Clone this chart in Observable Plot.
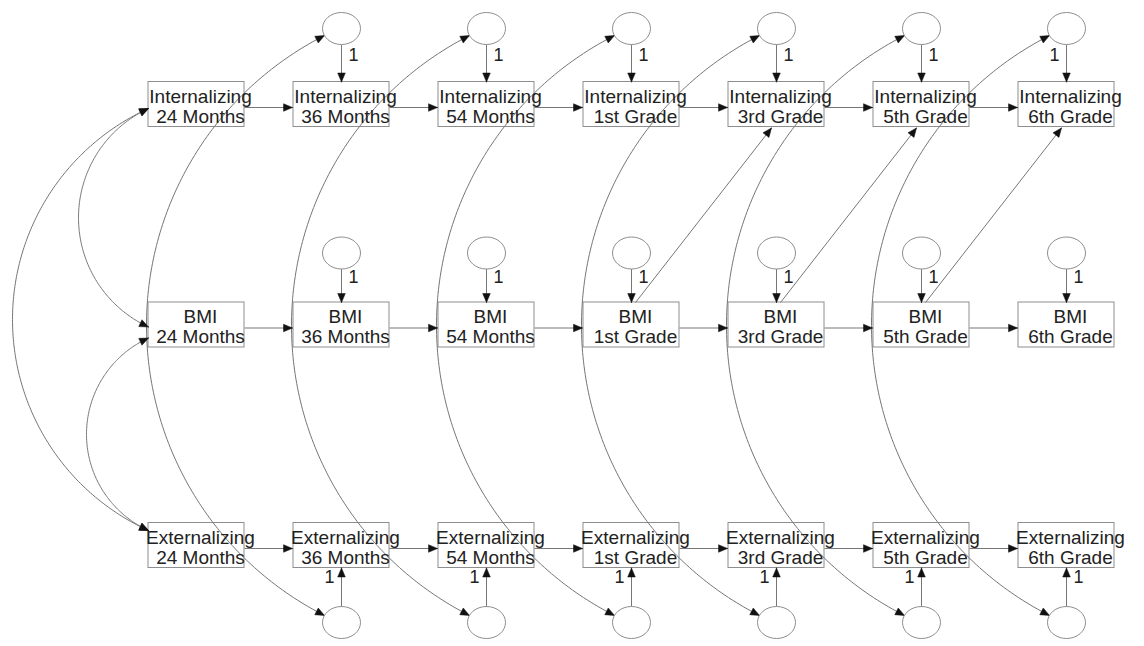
<!DOCTYPE html>
<html>
<head>
<meta charset="utf-8">
<script src="https://cdn.jsdelivr.net/npm/d3@7"></script>
<script src="https://cdn.jsdelivr.net/npm/@observablehq/plot@0.6"></script>
<style>
  html, body { margin: 0; padding: 0; background: #fff; }
  #chart svg { display: block; }
</style>
</head>
<body>
<div id="chart"></div>
<script>
// ---------------- Data (path-diagram structure) ----------------
const waves = ["24 Months", "36 Months", "54 Months", "1st Grade", "3rd Grade", "5th Grade", "6th Grade"];
const constructs = ["Internalizing", "BMI", "Externalizing"];
// cross-lagged paths: BMI at one wave -> Internalizing at the next wave
const crossLagFrom = ["1st Grade", "3rd Grade", "5th Grade"];
const crossLagTo = ["3rd Grade", "5th Grade", "6th Grade"];
// residual covariances between Internalizing and Externalizing disturbances
const residualCovWaves = ["36 Months", "54 Months", "1st Grade", "3rd Grade", "5th Grade", "6th Grade"];
// covariances among the 24-month measures
const initialCovFrom = ["Internalizing", "BMI", "Internalizing"];
const initialCovTo = ["BMI", "Externalizing", "Externalizing"];
const loadingLabel = "1";

// ---------------- Layout scales ----------------
const xScale = Plot.scale({x: {type: "linear", domain: [0, waves.length - 1], range: [196, 1066]}});
const yScale = Plot.scale({y: {type: "linear", domain: [0, constructs.length - 1], range: [104, 545]}});
const px = w => xScale.apply(waves.indexOf(w));
const py = c => yScale.apply(constructs.indexOf(c));
const ix = p => xScale.invert(p);
const iy = p => yScale.invert(p);

const BOX_W = 96, BOX_H = 45;
const RX = 19, RY = 16;
const ERR = {
  Internalizing: {dy: -76, label: -49},
  BMI: {dy: -72, label: -48},
  Externalizing: {dy: 77, label: 32}
};
const HL = 9, HW = 3.8;

// autoregressive (stability) paths within each construct
const stabilityPaths = constructs.flatMap(c =>
  waves.slice(0, -1).map((w, i) => ({construct: c, from: w, to: waves[i + 1]})));

const nodes = constructs.flatMap(c => waves.map(w => ({construct: c, wave: w, cx: px(w), cy: py(c)})));

const errors = constructs.flatMap(c => waves.slice(1).map((w, i, arr) => {
  const last = i === arr.length - 1;
  const side = c === "Internalizing" ? (last ? -1 : 1) : c === "BMI" ? 1 : (last ? 1 : -1);
  return {construct: c, wave: w, cx: px(w), by: py(c), ey: py(c) + ERR[c].dy, ly: py(c) + ERR[c].label,
          side, up: c === "Externalizing"};
}));

// straight single-headed arrows (pixel geometry derived from the scales)
const straight = [];
for (const p of stabilityPaths) {
  const y = py(p.construct) + 3;
  straight.push({x1: px(p.from) + BOX_W / 2, y1: y, x2: px(p.to) - BOX_W / 2 - 1, y2: y});
}
crossLagFrom.forEach((f, i) => straight.push({
  x1: px(f) + 4, y1: py("BMI") - BOX_H / 2,
  x2: px(crossLagTo[i]) - 5, y2: py("Internalizing") + BOX_H / 2 + 1
}));
for (const e of errors) {
  if (e.up) straight.push({x1: e.cx, y1: e.ey - RY, x2: e.cx, y2: e.by + BOX_H / 2});
  else straight.push({x1: e.cx, y1: e.ey + RY, x2: e.cx, y2: e.by - BOX_H / 2});
}

// circular arc through three points
function arcPoints(S, M, E, n = 160) {
  const [ax, ay] = S, [bx, by] = M, [cx, cy] = E;
  const d = 2 * (ax * (by - cy) + bx * (cy - ay) + cx * (ay - by));
  const ux = ((ax * ax + ay * ay) * (by - cy) + (bx * bx + by * by) * (cy - ay) + (cx * cx + cy * cy) * (ay - by)) / d;
  const uy = ((ax * ax + ay * ay) * (cx - bx) + (bx * bx + by * by) * (ax - cx) + (cx * cx + cy * cy) * (bx - ax)) / d;
  const R = Math.hypot(ax - ux, ay - uy);
  const a0 = Math.atan2(ay - uy, ax - ux), am = Math.atan2(by - uy, bx - ux), a1 = Math.atan2(cy - uy, cx - ux);
  const TAU = 2 * Math.PI;
  const norm = a => ((a % TAU) + TAU) % TAU;
  const d1 = norm(a1 - a0), dm = norm(am - a0);
  const delta = dm < d1 ? d1 : d1 - TAU;
  return d3.range(n + 1).map(i => {
    const a = a0 + delta * i / n;
    return [ux + R * Math.cos(a), uy + R * Math.sin(a)];
  });
}

// double-headed covariance arcs
const arcs = [];
const topCy = py("Internalizing") + ERR.Internalizing.dy;
const botCy = py("Externalizing") + ERR.Externalizing.dy;
for (const w of residualCovWaves) {
  const cx = px(w);
  const S = [cx - 17, topCy + 7], E = [cx - 17, botCy - 7];
  arcs.push([S, [cx - 195, (S[1] + E[1]) / 2], E]);
}
const left0 = px(waves[0]) - BOX_W / 2;
const endY = {
  Internalizing: {from: py("Internalizing") + 4},
  BMI: {to: py("BMI") + 2, from: py("BMI") + 13},
  Externalizing: {to: py("Externalizing") - 15}
};
const initialBulge = [70, 62, 136];
initialCovFrom.forEach((f, i) => {
  const S = [left0, endY[f].from], E = [left0, endY[initialCovTo[i]].to];
  arcs.push([S, [left0 - initialBulge[i], (S[1] + E[1]) / 2], E]);
});
const arcSamples = arcs.map(([S, M, E]) => arcPoints(S, M, E));
const arcData = arcSamples.flatMap((pts, k) => pts.map(([x, y]) => ({k, x: ix(x), y: iy(y)})));

// filled arrowheads
function headTri(tip, back, id) {
  const dx = tip[0] - back[0], dy = tip[1] - back[1], l = Math.hypot(dx, dy);
  const ux = dx / l, uy = dy / l;
  const bx = tip[0] - ux * HL, by = tip[1] - uy * HL;
  return [[tip[0], tip[1]], [bx - uy * HW, by + ux * HW], [bx + uy * HW, by - ux * HW], [tip[0], tip[1]]]
    .map(([x, y]) => ({id, x: ix(x), y: iy(y)}));
}
const heads = [];
straight.forEach((s, i) => heads.push(...headTri([s.x2, s.y2], [s.x1, s.y1], "s" + i)));
arcSamples.forEach((pts, k) => {
  const n = pts.length - 1;
  heads.push(...headTri(pts[0], pts[1], "a" + k + "s"));
  heads.push(...headTri(pts[n], pts[n - 1], "a" + k + "e"));
});

const ellipse = {
  draw(ctx) {
    const k = 0.5523;
    ctx.moveTo(RX, 0);
    ctx.bezierCurveTo(RX, k * RY, k * RX, RY, 0, RY);
    ctx.bezierCurveTo(-k * RX, RY, -RX, k * RY, -RX, 0);
    ctx.bezierCurveTo(-RX, -k * RY, -k * RX, -RY, 0, -RY);
    ctx.bezierCurveTo(k * RX, -RY, RX, -k * RY, RX, 0);
    ctx.closePath();
  }
};

const lineColor = "#767676";
const boxColor = "#8e8e8e";

const chart = Plot.plot({
  width: 1144,
  height: 646,
  margin: 0,
  x: {type: "linear", domain: xScale.domain, range: xScale.range, axis: null},
  y: {type: "linear", domain: yScale.domain, range: yScale.range, axis: null},
  style: {background: "#fff", fontFamily: "'Liberation Sans', Arial, sans-serif"},
  marks: [
    Plot.rect(nodes, {
      x1: d => ix(d.cx - BOX_W / 2), x2: d => ix(d.cx + BOX_W / 2),
      y1: d => iy(d.cy - BOX_H / 2), y2: d => iy(d.cy + BOX_H / 2),
      fill: "#fff", stroke: boxColor, strokeWidth: 1
    }),
    Plot.link(straight, {
      x1: d => ix(d.x1), y1: d => iy(d.y1), x2: d => ix(d.x2), y2: d => iy(d.y2),
      stroke: lineColor, strokeWidth: 1
    }),
    Plot.line(arcData, {x: "x", y: "y", z: "k", stroke: lineColor, strokeWidth: 1, curve: "linear"}),
    Plot.line(heads, {x: "x", y: "y", z: "id", fill: "#111", stroke: "#111", strokeWidth: 0.5, curve: "linear"}),
    Plot.dot(errors, {
      x: d => ix(d.cx), y: d => iy(d.ey), symbol: ellipse,
      fill: "#fff", stroke: boxColor, strokeWidth: 1
    }),
    Plot.text(nodes, {
      x: d => ix(d.cx), y: d => iy(d.cy),
      text: d => `${d.construct}\n${d.wave}`,
      fontSize: 19, lineHeight: 1.05, dx: 4, dy: 2, fill: "#222"
    }),
    Plot.text(errors, {
      x: d => ix(d.cx + d.side * 12), y: d => iy(d.ly),
      text: () => loadingLabel, fontSize: 18, fill: "#222"
    })
  ]
});
document.getElementById("chart").appendChild(chart);
</script>
</body>
</html>
